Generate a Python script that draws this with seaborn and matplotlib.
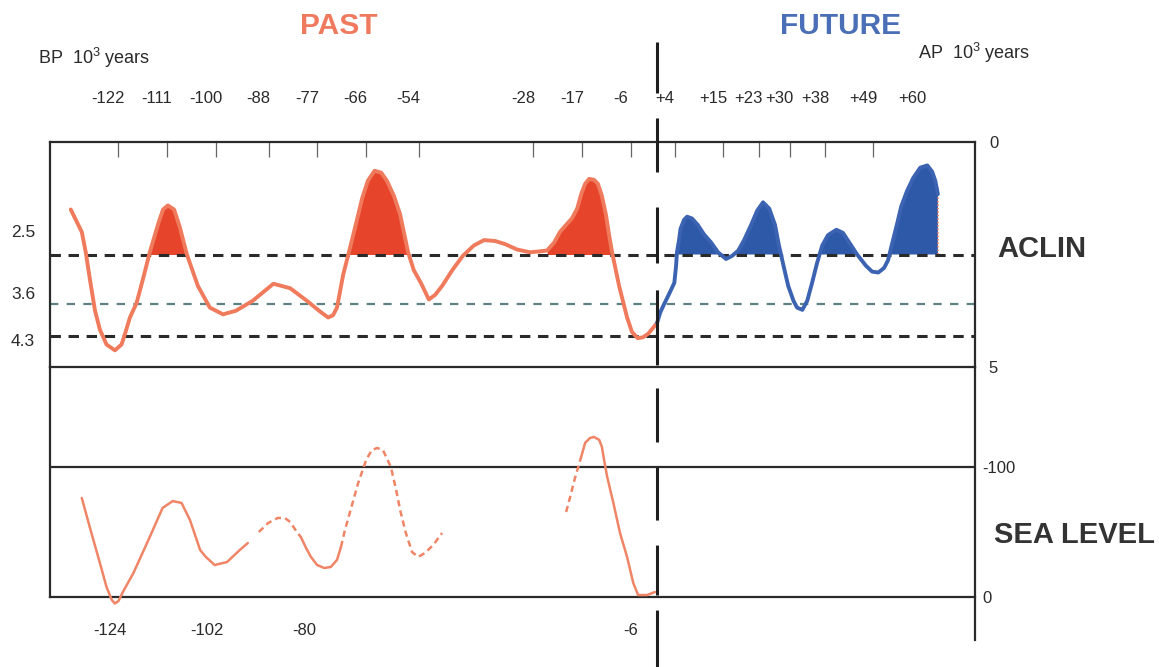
import numpy as np
import pandas as pd
import matplotlib
matplotlib.use("Agg")
import matplotlib.pyplot as plt
import matplotlib.transforms as mtransforms
import seaborn as sns

sns.set_theme(style="white")
plt.rcParams["font.family"] = ["Liberation Sans", "DejaVu Sans"]
plt.rcParams["mathtext.fontset"] = "custom"
plt.rcParams["mathtext.rm"] = "Liberation Sans"
plt.rcParams["lines.scale_dashes"] = False

# ---------------------------------------------------------------- data
# ACLIN index (0 = top, 5 = bottom), ages in 10^3 years (negative = BP)
aclin_past_age = [-132.8, -130.3, -129.4, -128.5, -127.3, -126.2, -124.7, -122.8, -121.3, -120.5,
                  -119.4, -117.9, -116.4, -114.9, -113.0, -111.9, -110.8, -109.4, -108.1, -106.5,
                  -104.0, -101.3, -98.3, -95.4, -91.6, -86.9, -83.1, -79.3, -76.3, -74.5,
                  -73.4, -72.5, -71.1, -69.8, -68.2, -66.8, -65.5, -64.0, -62.5, -61.2,
                  -59.6, -58.2, -56.4, -55.1, -53.5, -51.7, -50.3, -48.7, -46.4, -44.0,
                  -41.5, -39.2, -36.7, -34.4, -31.7, -28.8, -26.5, -24.9, -23.3, -22.0,
                  -20.6, -19.3, -18.1, -17.2, -16.3, -15.4, -14.3, -13.4, -12.5, -11.6,
                  -10.9, -10.2, -8.6, -6.8, -5.7, -4.4, -3.2, -2.0, 0.0]
aclin_past_val = [1.50, 2.00, 2.45, 3.03, 3.75, 4.17, 4.50, 4.63, 4.50, 4.26,
                  3.90, 3.58, 3.03, 2.45, 1.82, 1.50, 1.41, 1.50, 1.89, 2.50,
                  3.20, 3.68, 3.83, 3.75, 3.53, 3.15, 3.25, 3.53, 3.77, 3.90,
                  3.85, 3.68, 2.95, 2.45, 1.82, 1.25, 0.86, 0.64, 0.68, 0.86,
                  1.20, 1.61, 2.45, 2.85, 3.13, 3.50, 3.40, 3.20, 2.85, 2.53,
                  2.30, 2.18, 2.20, 2.27, 2.39, 2.45, 2.43, 2.41, 2.23, 2.00,
                  1.84, 1.70, 1.48, 1.16, 0.93, 0.82, 0.84, 0.93, 1.20, 1.61,
                  2.05, 2.45, 3.20, 3.90, 4.22, 4.36, 4.34, 4.26, 4.02]

aclin_future_age = [0.0, 0.7, 1.5, 2.7, 3.9, 4.3, 4.5, 5.0, 5.3, 6.1,
                    6.8, 7.9, 9.2, 10.6, 12.2, 13.8, 15.6, 17.0, 18.4, 19.7,
                    21.3, 22.7, 24.0, 25.4, 26.7, 27.6, 28.7, 29.7, 30.9, 31.7,
                    32.9, 34.0, 35.1, 36.2, 37.4, 38.7, 40.6, 42.1, 43.5, 45.3,
                    47.3, 48.7, 50.1, 51.4, 52.3, 53.2, 54.3, 55.3, 56.6, 58.0,
                    59.6, 61.2, 62.3, 63.0, 63.6]
aclin_future_val = [4.02, 3.79, 3.62, 3.38, 3.13, 2.75, 2.45, 2.16, 1.93, 1.73,
                    1.66, 1.70, 1.84, 2.05, 2.23, 2.45, 2.60, 2.53, 2.41, 2.18,
                    1.84, 1.52, 1.34, 1.48, 1.84, 2.30, 2.78, 3.20, 3.53, 3.68,
                    3.73, 3.53, 3.13, 2.70, 2.30, 2.07, 1.95, 2.02, 2.23, 2.50,
                    2.75, 2.88, 2.90, 2.80, 2.63, 2.27, 1.84, 1.43, 1.09, 0.80,
                    0.57, 0.52, 0.66, 0.86, 1.16]

aclin_thresholds = [2.5, 3.6, 4.3]
aclin_threshold_labels = ["2.5", "3.6", "4.3"]
# warm intervals shaded above the 2.5 threshold
fill_windows = [(-117.0, -104.0), (-72.0, -54.0), (-25.0, -8.0), (0.0, 64.0)]

top_ticks = [-122, -111, -100, -88, -77, -66, -54, -28, -17, -6, 4, 15, 23, 30, 38, 49, 60]
top_labels = ["-122", "-111", "-100", "-88", "-77", "-66", "-54", "-28", "-17", "-6",
              "+4", "+15", "+23", "+30", "+38", "+49", "+60"]

# sea level (m), pieces: solid or dashed (uncertain) reconstruction
sea_age = [-130.3, -128.5, -126.2, -124.7, -123.5, -122.8, -122.0, -121.0, -118.6, -114.9,
           -112.0, -109.7, -107.7, -105.8, -103.5, -102.2, -100.2, -97.4, -94.5, -92.7,
           -90.2, -88.1, -85.9, -84.3, -83.1, -81.6, -80.7,
           -80.7, -79.5, -78.4, -77.0, -75.4, -73.9, -72.5, -71.6,
           -71.6, -70.7, -69.1, -67.7, -65.9, -64.6, -63.4, -62.1, -60.3, -59.1,
           -58.2, -56.9, -55.5, -54.1, -52.6, -50.7, -48.7,
           -20.6, -19.7, -18.6, -17.2,
           -17.2, -16.3, -15.2, -14.3, -13.1, -12.5, -12.0, -11.3, -9.9, -8.4,
           -6.8, -5.4, -4.3, -2.3, -0.5]
sea_level = [-76.2, -53.8, -26.2, -7.7, 2.3, 5.0, 3.1, -3.8, -18.5, -46.2,
             -68.5, -73.8, -72.3, -59.2, -36.2, -30.8, -24.6, -26.9, -36.2, -41.5,
             -50.0, -56.9, -60.8, -60.8, -57.7, -50.0, -46.2,
             -46.2, -37.7, -30.8, -24.6, -22.3, -23.1, -28.5, -38.5,
             -38.5, -51.5, -70.8, -87.7, -105.4, -113.1, -114.6, -113.1, -100.0, -82.3,
             -66.9, -49.2, -34.6, -30.8, -33.8, -40.0, -49.2,
             -65.4, -76.9, -91.5, -107.7,
             -107.7, -118.5, -122.3, -123.1, -120.8, -115.4, -105.4, -92.3, -72.3, -49.2,
             -30.8, -10.8, -1.5, -1.5, -3.8]
sea_piece = [1] * 20 + [2] * 7 + [3] * 8 + [4] * 17 + [5] * 4 + [6] * 15
sea_piece_kind = {1: "solid", 2: "dashed", 3: "solid", 4: "dashed", 5: "dashed", 6: "solid"}

bottom_ticks = [-124, -102, -80, -6]
bottom_labels = ["-124", "-102", "-80", "-6"]

# ---------------------------------------------------------------- style
RED_LINE = "#EF7A5C"
RED_FILL = "#E6452C"
BLUE_LINE = "#3B63B2"
BLUE_FILL = "#2E58A8"
SEA_LINE = "#EF8566"
INK = "#2A2A2A"
PAST_TXT = "#EF7A5E"
FUTURE_TXT = "#4A6FB6"
SMALL = 12

W, H = 1159, 667
fig = plt.figure(figsize=(W / 100, H / 100), dpi=100)


def box(x0, y0, x1, y1):
    return [x0 / W, 1 - y1 / H, (x1 - x0) / W, (y1 - y0) / H]


ax1 = fig.add_axes(box(50, 142, 975, 367))
ax2 = fig.add_axes(box(50, 367, 975, 597))
ax2.patch.set_visible(False)
XLIM = (-137.5, 72.0)

# ---------------------------------------------------------------- ACLIN panel
aclin = pd.DataFrame({
    "age": aclin_past_age + aclin_future_age,
    "aclin": aclin_past_val + aclin_future_val,
    "period": ["past"] * len(aclin_past_age) + ["future"] * len(aclin_future_age),
})

for lo, hi in fill_windows:
    seg = aclin[(aclin.age >= lo) & (aclin.age <= hi)]
    seg = seg[seg.period == ("future" if lo >= 0 else "past")]
    ax1.fill_between(seg.age, seg.aclin, 2.5, where=seg.aclin <= 2.5, interpolate=True,
                     color=BLUE_FILL if lo >= 0 else RED_FILL, lw=0, zorder=1)

# dotted trailing edge of the last shaded interval
ax1.vlines(aclin_future_age[-1], aclin_future_val[-1], 2.5, colors=RED_LINE,
           linestyles=(0, (1, 1.5)), lw=1.2, zorder=1.5)

for v in aclin_thresholds:
    if v == 3.6:
        ax1.axhline(v, color="#5E8283", lw=1.6, dashes=(6, 6), zorder=2)
    else:
        ax1.axhline(v, color=INK, lw=2.2, dashes=(7.5, 5.5), zorder=2)

sns.lineplot(data=aclin, x="age", y="aclin", hue="period",
             palette={"past": RED_LINE, "future": BLUE_LINE},
             estimator=None, sort=False, legend=False, ax=ax1,
             linewidth=2.8, solid_joinstyle="round", solid_capstyle="round", zorder=3)

ax1.set_xlim(*XLIM)
ax1.set_ylim(5, 0)
ax1.set(xlabel="", ylabel="")

ax1.set_xticks(top_ticks, top_labels)
ax1.tick_params(axis="x", bottom=False, top=True, labelbottom=False, labeltop=True,
                direction="in", length=10.5, width=0.9, color="#666666",
                pad=26, labelsize=SMALL, labelcolor=INK)
ax1.xaxis.get_major_ticks()[-1].tick2line.set_visible(False)

ax1.yaxis.tick_right()
ax1.set_yticks([0, 5], ["0", "5"])
ax1.tick_params(axis="y", left=False, right=False, length=0, pad=10,
                labelsize=SMALL, labelcolor=INK)

for sp in ax1.spines.values():
    sp.set_color(INK)
    sp.set_linewidth(1.6)

label_offsets = {"2.5": 15.5, "3.6": 6.5, "4.3": -4.0}
for v, lab in zip(aclin_thresholds, aclin_threshold_labels):
    ax1.annotate(lab, xy=(-0.016, v), xycoords=ax1.get_yaxis_transform(),
                 xytext=(0, label_offsets[lab]), textcoords="offset points",
                 ha="right", va="center", fontsize=12.5, color=INK, annotation_clip=False)

# ---------------------------------------------------------------- sea level panel
sea = pd.DataFrame({"age": sea_age, "level": sea_level, "piece": sea_piece})
sea["kind"] = sea.piece.map(sea_piece_kind)

sns.lineplot(data=sea, x="age", y="level", units="piece", style="kind",
             dashes={"solid": "", "dashed": (4.5, 3)},
             estimator=None, sort=False, legend=False, ax=ax2,
             color=SEA_LINE, linewidth=1.8, clip_on=False, zorder=3)

ax2.axhline(-100, color=INK, lw=1.6, zorder=2)
ax2.set_xlim(*XLIM)
ax2.set_ylim(0, -176.9)
ax2.set(xlabel="", ylabel="")

ax2.set_xticks(bottom_ticks, bottom_labels)
ax2.tick_params(axis="x", bottom=True, length=0, pad=19, labelsize=SMALL, labelcolor=INK)
ax2.yaxis.tick_right()
ax2.set_yticks([-100, 0], ["-100", "0"])
ax2.tick_params(axis="y", left=False, right=False, length=0, pad=5,
                labelsize=SMALL, labelcolor=INK)

ax2.spines["top"].set_visible(False)
for name in ("left", "right", "bottom"):
    ax2.spines[name].set_color(INK)
    ax2.spines[name].set_linewidth(1.6)
ax2.spines["right"].set_bounds(33, -176.9)

# ---------------------------------------------------------------- present boundary
present = mtransforms.blended_transform_factory(ax1.transData, fig.transFigure)
ax1.plot([0, 0], [1 - 42 / H, 0], transform=present, clip_on=False, color="#1E1E1E",
         lw=2.2, solid_capstyle="butt", dash_capstyle="butt",
         dashes=(36.7, 18, 38.9, 25.2, 40.3, 19.4, 54, 16.6, 38.9, 18, 38.2, 18, 36, 10.8, 41, 20),
         zorder=5)

# ---------------------------------------------------------------- titles and notes
fig.text(339 / W, 1 - 26 / H, "PAST", ha="center", va="center",
         fontsize=21.5, fontweight="bold", color=PAST_TXT)
fig.text(841 / W, 1 - 26 / H, "FUTURE", ha="center", va="center",
         fontsize=21.5, fontweight="bold", color=FUTURE_TXT)
fig.text(38 / W, 1 - 58 / H, r"BP  10$^{3}$ years", ha="left", va="center",
         fontsize=13, color=INK)
fig.text(918 / W, 1 - 53 / H, r"AP  10$^{3}$ years", ha="left", va="center",
         fontsize=13, color=INK)
fig.text(997 / W, 1 - 249 / H, "ACLIN", ha="left", va="center",
         fontsize=21, fontweight="bold", color="#333333")
fig.text(994 / W, 1 - 535 / H, "SEA LEVEL", ha="left", va="center",
         fontsize=21, fontweight="bold", color="#333333")

# top tick labels sit slightly left of their tick marks
shift = mtransforms.ScaledTranslation(-10 / 100, 0, fig.dpi_scale_trans)
for t in ax1.xaxis.get_major_ticks():
    t.label2.set_transform(t.label2.get_transform() + shift)

fig.savefig("out.png", dpi=100)
